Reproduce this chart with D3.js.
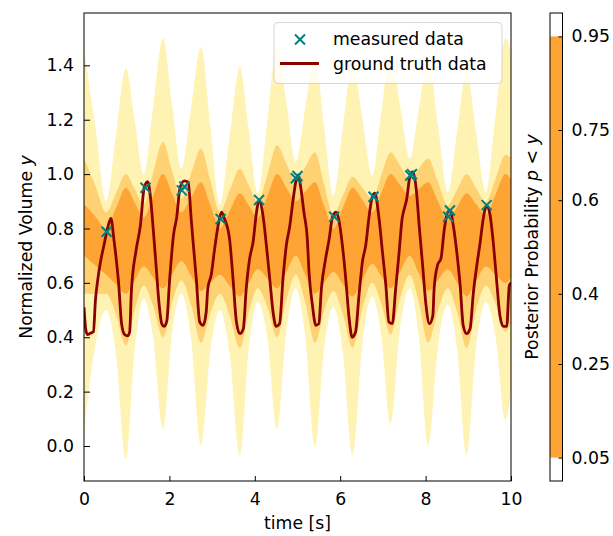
<!DOCTYPE html>
<html>
<head>
<meta charset="utf-8">
<script src="https://cdn.jsdelivr.net/npm/d3@7"></script>
<style>
  body { margin: 0; background: #fff; }
  text { font-family: "DejaVu Sans", sans-serif; fill: #000; }
</style>
</head>
<body>
<div id="chart"></div>
<script>
// ground truth curve
const truthT = [0.00,0.04,0.08,0.15,0.22,0.27,0.33,0.39,0.47,0.55,0.63,0.70,0.76,0.81,0.88,0.95,1.02,1.07,1.11,1.22,1.32,1.41,1.49,1.56,1.62,1.68,1.76,1.82,1.88,1.94,2.00,2.10,2.17,2.25,2.35,2.44,2.51,2.55,2.63,2.71,2.79,2.86,2.90,2.98,3.06,3.14,3.22,3.29,3.41,3.49,3.57,3.65,3.73,3.80,3.88,3.96,4.04,4.10,4.19,4.27,4.35,4.43,4.50,4.58,4.66,4.74,4.82,4.89,4.97,5.02,5.07,5.15,5.23,5.27,5.35,5.43,5.50,5.56,5.66,5.74,5.82,5.90,5.97,6.05,6.13,6.21,6.28,6.36,6.44,6.52,6.60,6.67,6.75,6.81,6.91,6.99,7.07,7.14,7.22,7.30,7.38,7.45,7.48,7.56,7.63,7.70,7.78,7.85,7.93,8.01,8.09,8.17,8.20,8.28,8.36,8.44,8.52,8.57,8.65,8.73,8.81,8.88,8.96,9.04,9.12,9.20,9.27,9.35,9.43,9.51,9.59,9.66,9.74,9.82,9.90,9.96,10.0];
const truthV = [0.51,0.43,0.41,0.415,0.42,0.54,0.62,0.68,0.74,0.80,0.837,0.76,0.68,0.60,0.45,0.41,0.405,0.42,0.57,0.72,0.81,0.95,0.972,0.91,0.80,0.68,0.52,0.45,0.44,0.46,0.60,0.78,0.84,0.95,0.975,0.97,0.836,0.76,0.615,0.456,0.444,0.49,0.58,0.63,0.726,0.81,0.86,0.836,0.76,0.615,0.456,0.413,0.43,0.58,0.69,0.75,0.86,0.904,0.85,0.74,0.615,0.49,0.44,0.45,0.615,0.74,0.81,0.897,0.98,0.997,0.958,0.86,0.76,0.64,0.517,0.444,0.45,0.58,0.69,0.76,0.842,0.86,0.83,0.74,0.615,0.468,0.40,0.42,0.554,0.677,0.74,0.836,0.916,0.93,0.836,0.713,0.59,0.456,0.45,0.58,0.713,0.836,0.86,0.91,0.99,1.008,0.946,0.81,0.665,0.517,0.45,0.48,0.58,0.665,0.69,0.80,0.86,0.867,0.81,0.713,0.59,0.444,0.413,0.43,0.566,0.665,0.74,0.836,0.885,0.85,0.74,0.615,0.48,0.44,0.44,0.59,0.60];

// measured points
const measT = [0.53,1.44,2.29,2.35,3.20,4.10,4.96,5.00,5.86,6.78,7.64,7.68,8.53,8.57,9.43];
const measV = [0.788,0.95,0.94,0.954,0.835,0.905,0.985,0.993,0.843,0.917,0.995,1.0,0.843,0.866,0.886];

// posterior quantile bands (5/25/40/60/75/95 %)
const bandT = [0.00,0.26,0.52,0.75,0.98,1.19,1.40,1.62,1.85,2.06,2.28,2.51,2.74,2.96,3.18,3.41,3.65,3.86,4.07,4.30,4.52,4.74,4.96,5.18,5.41,5.62,5.84,6.06,6.29,6.52,6.75,6.96,7.18,7.40,7.63,7.84,8.06,8.29,8.52,8.74,8.96,9.18,9.41,9.64,9.87,10.0];
const q95 = [1.46,1.18,0.90,1.145,1.39,1.195,1.00,1.25,1.50,1.26,1.02,1.244,1.467,1.176,0.885,1.14,1.394,1.161,0.928,1.204,1.48,1.263,1.045,1.241,1.437,1.179,0.92,1.165,1.41,1.203,0.995,1.223,1.45,1.254,1.057,1.239,1.42,1.177,0.934,1.157,1.38,1.157,0.934,1.217,1.50,1.45];
const q75 = [1.057,0.96,0.86,0.93,1.00,0.945,0.89,1.004,1.118,1.014,0.91,1.002,1.094,0.977,0.86,0.94,1.02,0.959,0.897,1.00,1.106,1.038,0.97,1.025,1.08,0.965,0.85,0.92,0.99,0.95,0.91,0.995,1.08,1.032,0.983,1.02,1.057,0.971,0.885,0.943,1.00,0.949,0.897,0.984,1.07,1.06];
const q60 = [0.89,0.845,0.80,0.875,0.95,0.895,0.84,0.92,1.00,0.93,0.86,0.915,0.97,0.885,0.80,0.865,0.93,0.885,0.84,0.92,1.00,0.95,0.90,0.935,0.97,0.885,0.80,0.875,0.95,0.905,0.86,0.93,1.00,0.96,0.92,0.945,0.97,0.90,0.83,0.88,0.93,0.89,0.85,0.925,1.00,0.98];
const q40 = [0.70,0.665,0.63,0.595,0.56,0.61,0.66,0.62,0.58,0.63,0.68,0.625,0.57,0.60,0.63,0.59,0.55,0.60,0.65,0.615,0.58,0.64,0.70,0.63,0.56,0.60,0.64,0.595,0.55,0.61,0.67,0.625,0.58,0.64,0.70,0.635,0.57,0.61,0.65,0.60,0.55,0.605,0.66,0.63,0.60,0.62];
const q25 = [0.56,0.56,0.56,0.484,0.37,0.502,0.59,0.514,0.40,0.526,0.61,0.518,0.38,0.488,0.56,0.48,0.36,0.492,0.58,0.508,0.40,0.538,0.63,0.53,0.38,0.494,0.57,0.486,0.36,0.504,0.60,0.524,0.41,0.542,0.63,0.53,0.38,0.50,0.58,0.492,0.36,0.498,0.59,0.522,0.42,0.45];
const q05 = [0.05,0.365,0.50,0.336,-0.047,0.364,0.54,0.398,0.065,0.412,0.56,0.393,0.004,0.351,0.50,0.34,-0.033,0.361,0.53,0.391,0.065,0.426,0.58,0.405,-0.002,0.356,0.51,0.347,-0.033,0.375,0.55,0.41,0.083,0.431,0.58,0.407,0.004,0.365,0.52,0.354,-0.033,0.361,0.53,0.40,0.096,0.20];

const xTicks = [0, 2, 4, 6, 8, 10];
const yTicks = [0.0, 0.2, 0.4, 0.6, 0.8, 1.0, 1.2, 1.4];
const cbTicks = [0.05, 0.25, 0.4, 0.6, 0.75, 0.95];

const width = 613, height = 536;
const plot = { left: 84, right: 511, top: 13, bottom: 481 };
const cb = { left: 550, right: 562.5 };
const fontSize = "17.3px";
const colors = { light: "#fff3b4", mid: "#fed273", dark: "#fea434" };

const svg = d3.select("#chart").append("svg")
    .attr("width", width)
    .attr("height", height);

const x = d3.scaleLinear().domain([0, 10]).range([plot.left, plot.right]);
const y = d3.scaleLinear().domain([-0.1287, 1.5925]).range([plot.bottom, plot.top]);

svg.append("clipPath").attr("id", "clip")
  .append("rect")
    .attr("x", plot.left).attr("y", plot.top)
    .attr("width", plot.right - plot.left)
    .attr("height", plot.bottom - plot.top);

const g = svg.append("g").attr("clip-path", "url(#clip)");

// band = upper edge forward, lower edge backward
const edge = d3.line().x(d => x(d[0])).y(d => y(d[1])).curve(d3.curveMonotoneX);
function bandPath(lo, hi) {
  const top = bandT.map((t, i) => [t, hi[i]]);
  const bot = bandT.map((t, i) => [t, lo[i]]).reverse();
  return edge(top) + "L" + edge(bot).slice(1) + "Z";
}

g.append("path").attr("d", bandPath(q05, q95)).attr("fill", colors.light);
g.append("path").attr("d", bandPath(q25, q75)).attr("fill", colors.mid);
g.append("path").attr("d", bandPath(q40, q60)).attr("fill", colors.dark);

// ground truth
g.append("path")
    .datum(truthT.map((t, i) => [t, truthV[i]]))
    .attr("d", d3.line().x(d => x(d[0])).y(d => y(d[1])).curve(d3.curveMonotoneX))
    .attr("fill", "none")
    .attr("stroke", "#8b0000")
    .attr("stroke-width", 2.8)
    .attr("stroke-linejoin", "round");

// measured markers
const cross = "M-5,-5L5,5M-5,5L5,-5";
g.selectAll(".meas")
  .data(measT.map((t, i) => [t, measV[i]]))
  .enter().append("path")
    .attr("transform", d => `translate(${x(d[0])},${y(d[1])})`)
    .attr("d", cross)
    .attr("fill", "none")
    .attr("stroke", "#008080")
    .attr("stroke-width", 2);

// axes: ticks point inward like the matplotlib original
const xAxis = svg.append("g")
    .attr("transform", `translate(0,${plot.bottom})`)
    .call(d3.axisBottom(x).tickValues(xTicks).tickSizeInner(-5).tickSizeOuter(0).tickPadding(12).tickFormat(d3.format("d")));
const yAxis = svg.append("g")
    .attr("transform", `translate(${plot.left},0)`)
    .call(d3.axisLeft(y).tickValues(yTicks).tickSizeInner(-6).tickSizeOuter(0).tickPadding(10).tickFormat(d3.format(".1f")));
[xAxis, yAxis].forEach(a => {
  a.select(".domain").remove();
  a.selectAll("text").style("font-size", fontSize).attr("fill", "#000");
  a.selectAll("line").attr("stroke", "#000");
});
xAxis.selectAll("text").attr("dy", "0.71em");

svg.append("rect")
    .attr("x", plot.left).attr("y", plot.top)
    .attr("width", plot.right - plot.left)
    .attr("height", plot.bottom - plot.top)
    .attr("fill", "none").attr("stroke", "#000").attr("stroke-width", 1);

svg.append("text")
    .attr("x", (plot.left + plot.right) / 2)
    .attr("y", 529)
    .attr("text-anchor", "middle")
    .style("font-size", fontSize)
    .text("time [s]");

const yl = svg.append("text")
    .attr("transform", `translate(31.5,${(plot.top + plot.bottom) / 2}) rotate(-90)`)
    .attr("text-anchor", "middle")
    .style("font-size", fontSize);
yl.append("tspan").text("Normalized Volume ");
yl.append("tspan").style("font-style", "italic").text("y");

// legend
const lg = svg.append("g");
lg.append("rect")
    .attr("x", 274).attr("y", 22.5).attr("width", 228).attr("height", 61).attr("rx", 4)
    .attr("fill", "#fff").attr("fill-opacity", 0.8)
    .attr("stroke", "#ccc").attr("stroke-opacity", 0.8);
lg.append("path")
    .attr("transform", "translate(300,39.5)")
    .attr("d", cross)
    .attr("fill", "none").attr("stroke", "#008080").attr("stroke-width", 2);
lg.append("line")
    .attr("x1", 280).attr("x2", 319).attr("y1", 63.5).attr("y2", 63.5)
    .attr("stroke", "#8b0000").attr("stroke-width", 2.8);
lg.append("text").attr("x", 333).attr("y", 45).style("font-size", fontSize).text("measured data");
lg.append("text").attr("x", 333).attr("y", 69.5).style("font-size", fontSize).text("ground truth data");

// colorbar
const cy = d3.scaleLinear().domain([0, 1]).range([plot.bottom, plot.top]);
svg.append("rect")
    .attr("x", cb.left).attr("y", cy(0.95))
    .attr("width", cb.right - cb.left).attr("height", cy(0.05) - cy(0.95))
    .attr("fill", colors.dark);
svg.append("rect")
    .attr("x", cb.left).attr("y", plot.top)
    .attr("width", cb.right - cb.left).attr("height", plot.bottom - plot.top)
    .attr("fill", "none").attr("stroke", "#000");
const cAxis = svg.append("g")
    .attr("transform", `translate(${cb.right},0)`)
    .call(d3.axisRight(cy).tickValues(cbTicks).tickSizeInner(-4).tickSizeOuter(0).tickPadding(9).tickFormat(d3.format("")));
cAxis.select(".domain").remove();
cAxis.selectAll("text").style("font-size", fontSize).attr("fill", "#000");
cAxis.selectAll("line").attr("stroke", "#000");

const cl = svg.append("text")
    .attr("transform", `translate(538,${(plot.top + plot.bottom) / 2}) rotate(-90)`)
    .attr("text-anchor", "middle")
    .style("font-size", fontSize);
cl.append("tspan").text("Posterior Probability ");
cl.append("tspan").style("font-style", "italic").text("p");
cl.append("tspan").text(" < ");
cl.append("tspan").style("font-style", "italic").text("y");
</script>
</body>
</html>
